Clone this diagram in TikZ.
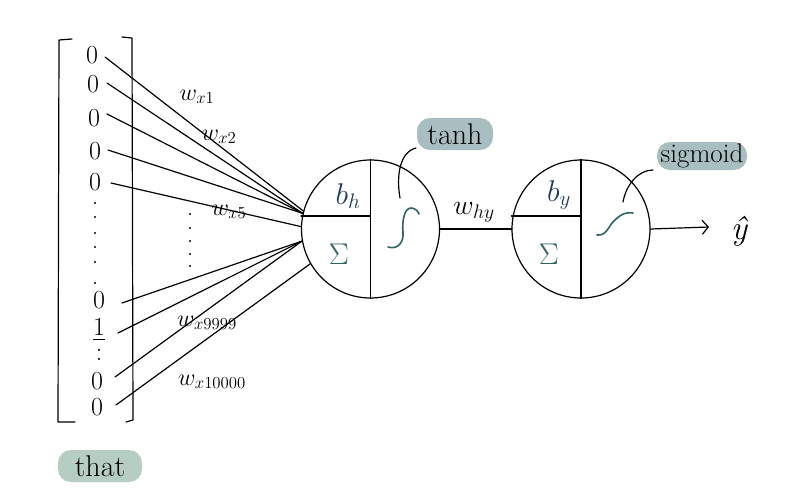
\RequirePackage{fix-cm}
\documentclass[tikz,border=0pt]{standalone}
\usepackage{amsmath}
\usetikzlibrary{arrows.meta}
\definecolor{navy}{HTML}{1F3B5C}
\definecolor{tealc}{HTML}{2F6466}
\definecolor{tagblue}{HTML}{A9BEC0}
\definecolor{taggreen}{HTML}{B6CEC1}
\tikzset{
  ink/.style={line width=1.2pt, black, line cap=round, line join=round},
  entry/.style={inner sep=0pt, font=\fontsize{26}{26}\selectfont},
  wlab/.style={inner sep=0pt, font=\fontsize{24}{24}\selectfont},
  neuron/.style={circle, draw, line width=1.2pt, minimum size=138pt, inner sep=0pt},
  tag/.style={rounded corners=13pt, inner sep=0pt},
  dotc/.style={fill=black, circle, inner sep=0pt, minimum size=2.4pt},
}
\begin{document}
\begin{tikzpicture}[x=1pt,y=-1pt]
\useasboundingbox (0,0) rectangle (800,499);
\fill[white] (0,0) rectangle (800,499);

% brackets
\draw[ink] (72,39) -- (59,40) -- (58,422) -- (75,422);
\draw[ink] (122,37) -- (132,38) -- (133,420) -- (126,422);

% vector entries
\node[entry] (e1) at (92,55) {0};
\node[entry] (e2) at (93,84) {0};
\node[entry] (e3) at (94,118) {0};
\node[entry] (e4) at (95,151) {0};
\node[entry] (e5) at (95,182) {0};
\foreach \i/\y in {1/203,2/217,3/233,4/247,5/262,6/283}
  \node[dotc] (ld\i) at (95,\y) {};
\node[entry] (e6) at (99,300) {0};
\node[entry] (e7) at (99,330) {$\underline{1}$};
\node[entry] (e8) at (99,355) {:};
\node[entry] (e9) at (97,381) {0};
\node[entry] (e10) at (97,407) {0};

% middle dots
\foreach \i/\y in {1/214,2/228,3/241,4/254,5/266}
  \node[dotc] (md\i) at (190,\y) {};

% neurons
\node[neuron] (n1) at (370.5,229) {};
\node[neuron] (n2) at (581,229) {};
\draw[ink] (n1.north) -- (n1.south);
\draw[ink] (n1.west) ++(0,-13) coordinate (h1l) -- (h1l -| n1.north);
\draw[ink] (n2.north) -- (n2.south);
\draw[ink] (n2.west) ++(0,-13) coordinate (h2l) -- (h2l -| n2.north);

% input connections
\draw[ink] (105,57) -- (n1.165);
\draw[ink] (107,83) -- (n1.167);
\draw[ink] (107,114) -- (n1.167);
\draw[ink] (108,150) -- (n1.167);
\draw[ink] (111,183) -- (n1.178);
\draw[ink] (122,303) -- (n1.190);
\draw[ink] (118,333) -- (n1.190);
\draw[ink] (115,377) -- (n1.190);
\draw[ink] (116,405) -- (n1.210);

% weight labels
\node[wlab] (w1) at (197,97) {$w_{x1}$};
\node[wlab] (w2) at (219,137) {$w_{x2}$};
\node[wlab] (w5) at (229,212) {$w_{x5}$};
\node[wlab] (w9) at (207,323) {$w_{x9999}$};
\node[wlab] (w10) at (212,382) {$w_{x10000}$};

% neuron contents
\node[inner sep=0pt, text=navy, font=\fontsize{30}{30}\selectfont] (bh) at (348,196) {$b_h$};
\node[inner sep=0pt, text=tealc, font=\fontsize{30}{30}\selectfont] (s1) at (339,254) {$\Sigma$};
\node[inner sep=0pt, text=navy, font=\fontsize{30}{30}\selectfont] (by) at (559,195) {$b_y$};
\node[inner sep=0pt, text=tealc, font=\fontsize{30}{30}\selectfont] (s2) at (549,254) {$\Sigma$};
\draw[line width=1.6pt, tealc, line cap=round] (388,247) .. controls (398,250) and (404,242) .. (403,232) .. controls (402,222) and (404,208) .. (411,208) .. controls (415,208) and (418,211) .. (419,214);
\draw[line width=1.6pt, tealc, line cap=round] (597,235) .. controls (607,236) and (608,226) .. (615,220) .. controls (622,213) and (628,212) .. (633,213);

% connections between neurons
\draw[ink] (n1.east) -- (n2.west);
\node[inner sep=0pt, font=\fontsize{28}{28}\selectfont] (why) at (474,212) {$w_{hy}$};
\coordinate (out) at (709,227);
\draw[ink, -{Straight Barb[length=6pt,width=14pt,line width=1.2pt]}] (n2.east) -- (out);
\node[inner sep=0pt, font=\fontsize{34}{34}\selectfont\itshape] (yhat) at (739,231) {ŷ};

% tags
\node[tag, fill=tagblue, minimum width=76pt, minimum height=32pt, font=\fontsize{30}{30}\selectfont] (tanh) at (455,134) {tanh};
\draw[ink] (416,148) .. controls (400,152) and (396,175) .. (400,198);
\node[tag, fill=tagblue, minimum width=90pt, minimum height=28pt, font=\fontsize{27}{27}\selectfont] (sig) at (702,156) {sigmoid};
\draw[ink] (653,170) .. controls (638,170) and (626,185) .. (623,202);
\node[tag, fill=taggreen, minimum width=84pt, minimum height=32pt, font=\fontsize{30}{30}\selectfont] (that) at (100,466) {that};
\end{tikzpicture}
\end{document}
